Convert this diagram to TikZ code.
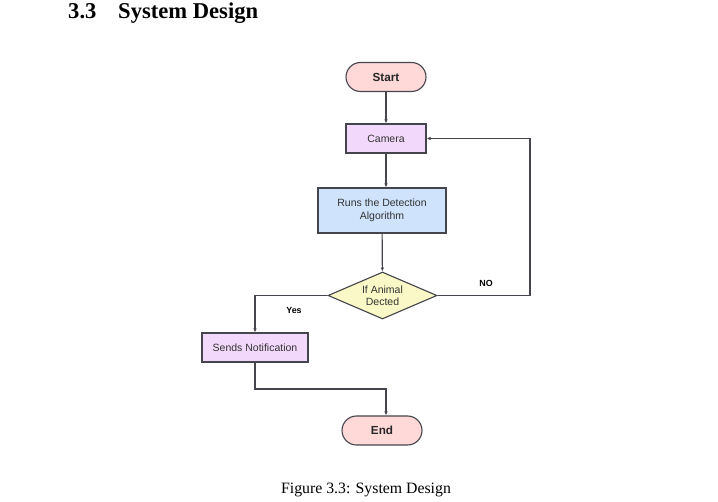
\documentclass[tikz,border=0pt]{standalone}
\usepackage{fontspec}
\setmainfont{Liberation Serif}
\newfontfamily\chartfont{Liberation Sans}
\usetikzlibrary{shapes.geometric,arrows.meta}
\definecolor{edgegray}{HTML}{45454D}
\definecolor{pinkfill}{HTML}{FFD8D8}
\definecolor{purplefill}{HTML}{F2D8FB}
\definecolor{bluefill}{HTML}{CFE3FC}
\definecolor{yellowfill}{HTML}{FAF8C6}
\definecolor{txtgray}{HTML}{333333}
\tikzset{
  box/.style={draw=edgegray, line width=1.1pt, inner sep=0pt, align=center,
    font=\chartfont\fontsize{10.5}{12.5}\selectfont, text=txtgray},
  pill/.style={box, rounded corners=14.5pt, fill=pinkfill, minimum width=80pt, minimum height=29pt,
    font=\chartfont\bfseries\fontsize{11.7}{13}\selectfont, text=black!85},
  proc/.style={box, minimum height=29pt},
  decis/.style={box, diamond, aspect=2.3, fill=yellowfill, minimum width=109pt, minimum height=47pt},
  conn/.style={draw=edgegray, line width=1.15pt, -{Latex[length=4pt,width=3.5pt]}},
  lbl/.style={font=\chartfont\bfseries\fontsize{8.9}{10}\selectfont, text=black},
}
\begin{document}
\begin{tikzpicture}[x=1pt,y=1pt]
\useasboundingbox (0,0) rectangle (718,501);
% heading
\node[anchor=base west, inner sep=0pt, font=\bfseries\fontsize{22.6}{26}\selectfont] (secnum) at (68,482) {3.3};
\node[anchor=base west, inner sep=0pt, font=\bfseries\fontsize{22.6}{26}\selectfont] (sectitle) at (118,482) {System Design};
% nodes
\node[pill] (start) at (386,424) {Start};
\node[proc, fill=purplefill, minimum width=80pt] (camera) at (386,362.5) {Camera};
\node[proc, fill=bluefill, minimum width=128pt, minimum height=45pt] (runs) at (382,290.5) {Runs the Detection\\Algorithm};
\node[decis] (dec) at (382.5,205.5) {If Animal\\Dected};
\node[proc, fill=purplefill, minimum width=106pt] (notif) at (255,153.5) {Sends Notification};
\node[pill] (end) at (382,70.5) {End};
% helper coordinates
\coordinate (loopx) at (530,205.5);
\coordinate (joinl) at (255,112);
\coordinate (joinr) at (386,112);
% connectors
\draw[conn] (start) -- (camera);
\draw[conn] (camera.south) -- (camera.south |- runs.north);
\draw[conn] (runs) -- (dec);
\draw[conn] (dec.east) -- (loopx) |- (camera.east);
\draw[conn] (dec.west) -| (notif.north);
\draw[conn] (notif.south) -- (joinl) -- (joinr) -- (joinr |- end.north);
% labels
\node[lbl] (nolbl) at (486,218) {NO};
\node[lbl] (yeslbl) at (294,191) {Yes};
% caption
\node[anchor=base, inner sep=0pt, font=\fontsize{15.8}{18}\selectfont] (caption) at (366,7) {Figure 3.3: System Design};
\end{tikzpicture}
\end{document}
